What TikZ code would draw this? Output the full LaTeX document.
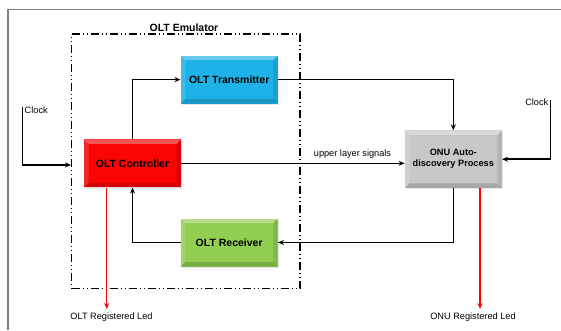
\documentclass[tikz,border=0pt]{standalone}
\usepackage{fontspec}
\setmainfont{Liberation Sans}
\usetikzlibrary{arrows.meta,shadows}

\definecolor{txblue}{RGB}{30,178,232}
\definecolor{ctred}{RGB}{250,4,4}
\definecolor{rxgreen}{RGB}{146,206,82}
\definecolor{onugray}{RGB}{200,200,200}
\definecolor{framegray}{RGB}{128,128,128}

\tikzset{
  % raised block with a bevelled rim
  block/.style={
    fill=#1, minimum width=97pt, minimum height=48pt, inner sep=0pt,
    align=center, font=\bfseries\fontsize{10.5}{12}\selectfont,
    drop shadow={shadow xshift=1.2pt, shadow yshift=-1.5pt, opacity=0.18},
    path picture={
      \def\bv{4.5pt}
      \coordinate (nw) at (path picture bounding box.north west);
      \coordinate (ne) at (path picture bounding box.north east);
      \coordinate (sw) at (path picture bounding box.south west);
      \coordinate (se) at (path picture bounding box.south east);
      % top rim
      \fill[white,opacity=0.32] (nw) -- (ne) -- ([xshift=-\bv,yshift=-\bv]ne)
        -- ([xshift=\bv,yshift=-\bv]nw) -- cycle;
      % left rim
      \fill[white,opacity=0.14] (nw) -- ([xshift=\bv,yshift=-\bv]nw)
        -- ([xshift=\bv,yshift=\bv]sw) -- (sw) -- cycle;
      % right rim
      \fill[black,opacity=0.10] (ne) -- ([xshift=-\bv,yshift=-\bv]ne)
        -- ([xshift=-\bv,yshift=\bv]se) -- (se) -- cycle;
      % bottom rim
      \fill[black,opacity=0.16] (sw) -- (se) -- ([xshift=-\bv,yshift=\bv]se)
        -- ([xshift=\bv,yshift=\bv]sw) -- cycle;
    }},
  conn/.style={draw=black, line width=1.5pt, -{Stealth[length=6pt,width=5pt]}},
  ledline/.style={draw=red, line width=1.1pt, -{Stealth[length=6pt,width=5pt]}},
  small/.style={font=\fontsize{9.2}{11}\selectfont, inner sep=0pt},
  emubox/.style={draw=black, line width=1.3pt,
    dash pattern=on 8pt off 3pt on 1pt off 3pt on 1pt off 3pt,
    inner sep=0pt, minimum width=228.3pt, minimum height=254.5pt},
}

\begin{document}
\begin{tikzpicture}[x=1pt, y=-1pt]
  \useasboundingbox (0,0) rectangle (561,330);
  \fill[white] (0,0) rectangle (561,330);

  % outer frame
  \draw[framegray, line width=1.5pt] (8,330) -- (8,9.3) -- (561,9.3);

  % emulator enclosure
  \node[emubox] (emu) at (185.85,161.25) {};
  \node[font=\bfseries\fontsize{10.5}{12}\selectfont, inner sep=0pt] (emulbl) at (184,27.3) {OLT Emulator};

  % blocks
  \node[block=txblue] (tx) at (229.2,79.6) {OLT Transmitter};
  \node[block=ctred] (ctrl) at (132.5,163.3) {OLT Controller};
  \node[block=rxgreen] (rx) at (229.2,242.5) {OLT Receiver};
  \node[block=onugray, minimum height=57.5pt, font=\bfseries\fontsize{9.2}{11}\selectfont] (onu) at (453.3,159.2) {ONU Auto-\\discovery Process};

  % signal paths
  \draw[conn] (ctrl.north) |- (tx.west);
  \draw[conn] (tx.east) -| (onu.north);
  \draw[conn] (ctrl.east) -- (onu.west |- ctrl.east);
  \node[small] (upper) at (352.5,154) {upper layer signals};
  \draw[conn] (onu.south) |- (rx.east);
  \draw[conn] (rx.west) -| (ctrl.south);

  % clock inputs
  \coordinate (clkL) at (22.5,107);
  \coordinate (clkLend) at (71,165);
  \draw[conn] (clkL) |- (clkLend);
  \node[small, anchor=west] (clkLlbl) at (24.5,110.5) {Clock};

  \coordinate (clkR) at (550.5,100);
  \draw[conn] (clkR) |- (onu.east);
  \node[small, anchor=east] (clkRlbl) at (548.5,102.7) {Clock};

  % LED outputs
  \coordinate (ledA) at (106.7,309);
  \coordinate (ledB) at (480,309);
  \draw[ledline] (ctrl.south -| ledA) -- (ledA);
  \draw[ledline] (onu.south -| ledB) -- (ledB);
  \node[small] (ledAlbl) at (111.5,316.7) {OLT Registered Led};
  \node[small] (ledBlbl) at (473,316.7) {ONU Registered Led};
\end{tikzpicture}
\end{document}
